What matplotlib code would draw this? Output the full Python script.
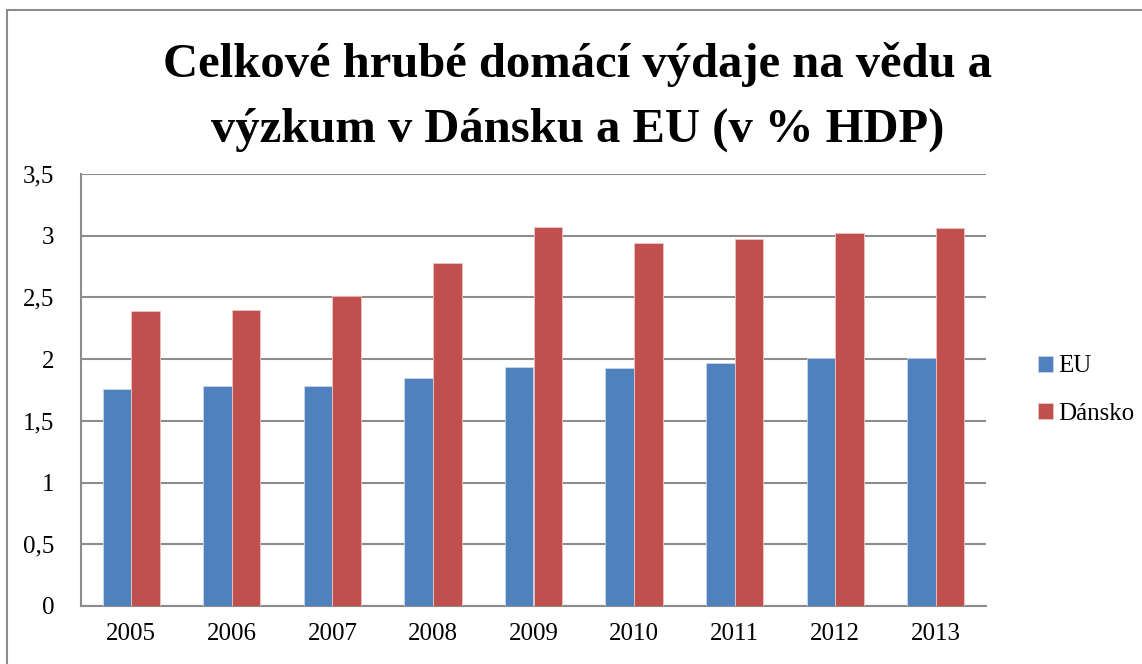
import matplotlib.pyplot as plt
import numpy as np
from matplotlib.patches import Rectangle

years = ["2005", "2006", "2007", "2008", "2009", "2010", "2011", "2012", "2013"]
eu = [1.76, 1.78, 1.78, 1.85, 1.94, 1.93, 1.97, 2.01, 2.01]
dansko = [2.39, 2.40, 2.51, 2.78, 3.07, 2.94, 2.97, 3.02, 3.06]
yticks = [0, 0.5, 1, 1.5, 2, 2.5, 3, 3.5]
ylabels = ["0", "0,5", "1", "1,5", "2", "2,5", "3", "3,5"]
title_lines = ["Celkové hrubé domácí výdaje na vědu a", "výzkum v Dánsku a EU (v % HDP)"]

plt.rcParams['font.family'] = ['Liberation Serif', 'DejaVu Serif']

fig = plt.figure(figsize=(11.42, 6.64), dpi=100)
ax = fig.add_axes([81 / 1142, 1 - 606 / 664, 905 / 1142, 432 / 664])

x = np.arange(len(years))
w = 0.285
ax.bar(x - w / 2, eu, w, color="#4F81BD", edgecolor="#c9d6ea", linewidth=0.6, label="EU", zorder=3)
ax.bar(x + w / 2, dansko, w, color="#C0504D", edgecolor="#ecc6c5", linewidth=0.6, label="Dánsko", zorder=3)

ax.set_xlim(-0.5, len(years) - 0.5)
ax.set_ylim(0, 3.5)
ax.set_yticks(yticks)
ax.set_yticklabels(ylabels)
ax.set_xticks(x)
ax.set_xticklabels(years)
ax.tick_params(axis="y", length=0, pad=19, labelsize=18)
ax.tick_params(axis="x", length=0, pad=12, labelsize=18)
ax.grid(axis="y", color="#8c8c8c", linewidth=1.5, zorder=0)

for side in ["top", "right"]:
    ax.spines[side].set_visible(False)
for side in ["left", "bottom"]:
    ax.spines[side].set_color("#8c8c8c")
    ax.spines[side].set_linewidth(1.5)

ax.legend(loc="center left", bbox_to_anchor=(1.033, 0.5), frameon=False, fontsize=18,
          handlelength=0.6, handleheight=0.6, handletextpad=0.2, labelspacing=1.0)

# title, two lines placed separately (wide line gap in the original)
fig.text(0.506, 1 - 77 / 664, title_lines[0], ha="center", va="baseline", fontsize=35, fontweight="bold")
fig.text(0.506, 1 - 142 / 664, title_lines[1], ha="center", va="baseline", fontsize=35, fontweight="bold")

# outer chart border
fig.patches.append(Rectangle((7 / 1142, -0.05), 1.1, 1 - 10 / 664 + 0.05, transform=fig.transFigure,
                             fill=False, edgecolor="#8c8c8c", linewidth=1.5))

fig.savefig("out.png", dpi=100)
